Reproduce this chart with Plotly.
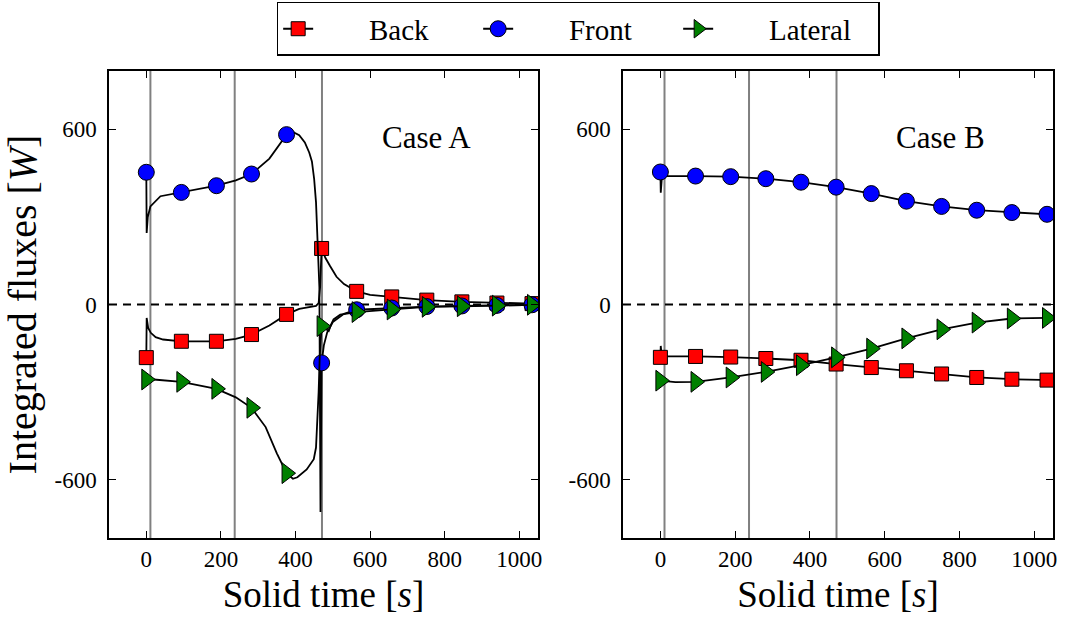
import plotly.graph_objects as go

# ---------------- data ----------------
marker_times = [0, 94, 188, 282, 376, 470, 564, 658, 752, 846, 940, 1034]
event_times = [11, 237, 471]
x_ticks = [0, 200, 400, 600, 800, 1000]
y_ticks = [-600, 0, 600]
y_tick_text = ["-600", "0", "600"]
series_names = ["Back", "Front", "Lateral"]
case_names = ["Case A", "Case B"]

# Case A
a_back_t = [0, 1, 5, 12, 25, 45, 94, 188, 240, 282, 330, 376, 410, 440, 455, 462, 466, 470,
            480, 493, 510, 530, 564, 600, 658, 752, 846, 940, 1034, 1050]
a_back_v = [-182, -46, -80, -97, -112, -120, -126, -126, -118, -103, -72, -34, -15, -8, -5, 5, 60, 192,
            160, 131, 95, 70, 45, 33, 26, 15, 9, 5, 3, 3]
a_back_m = [-182, -126, -126, -103, -34, 192, 45, 26, 15, 9, 5, 3]

a_front_t = [0, 1, 4, 11, 38, 94, 188, 240, 282, 330, 376, 392, 410, 425, 437, 444, 450, 455, 460,
             464, 467, 470, 476, 485, 500, 530, 564, 658, 752, 846, 940, 1034, 1050]
a_front_v = [453, 245, 300, 336, 371, 384, 407, 425, 447, 500, 582, 592, 580, 555, 520, 490, 430, 350, 215,
             60, -711, -200, -140, -95, -60, -32, -18, -12, -7, -5, -3, -1, -1]
a_front_m = [453, 384, 407, 447, 582, -200, -18, -12, -7, -5, -3, -1]

a_lat_t = [0, 3, 20, 94, 188, 240, 282, 320, 350, 376, 393, 405, 430, 449, 455, 459, 462, 465, 468,
           470, 477, 489, 495, 502, 520, 547, 564, 658, 752, 846, 940, 1034, 1050]
a_lat_v = [-257, -250, -257, -265, -289, -318, -354, -420, -510, -578, -597, -592, -565, -530, -490, -405,
           -300, -177, -100, -74, -80, -91, -70, -51, -35, -28, -26, -17, -8, -6, -4, -1, -1]
a_lat_m = [-257, -265, -289, -354, -578, -74, -26, -17, -8, -6, -4, -1]

# Case B
b_back_t = [0, 1, 3, 10, 94, 188, 282, 376, 470, 564, 658, 752, 846, 940, 1034, 1050]
b_back_v = [-181, -142, -172, -178, -178, -180, -185, -191, -204, -216, -227, -238, -250, -256, -259, -259]
b_back_m = [-181, -178, -180, -185, -191, -204, -216, -227, -238, -250, -256, -259]

b_front_t = [0, 1, 4, 10, 94, 188, 282, 376, 470, 564, 658, 752, 846, 940, 1034, 1050]
b_front_v = [454, 383, 437, 440, 440, 438, 431, 419, 402, 380, 354, 336, 323, 315, 309, 308]
b_front_m = [454, 440, 438, 431, 419, 402, 380, 354, 336, 323, 315, 309]

b_lat_t = [0, 40, 94, 188, 282, 376, 470, 564, 658, 752, 846, 940, 1034, 1050]
b_lat_v = [-261, -266, -265, -250, -231, -208, -181, -151, -116, -85, -62, -48, -46, -46]
b_lat_m = [-261, -265, -250, -231, -208, -181, -151, -116, -85, -62, -48, -46]

# ---------------- style ----------------
FONT = "Liberation Serif"
styles = {
    "Back": dict(symbol="square", color="#ff0000", size=14),
    "Front": dict(symbol="circle", color="#0000ff", size=16),
    "Lateral": dict(symbol="triangle-right", color="#008000", size=18),
}

fig = go.Figure()

cases = [
    ("x", "y", [(a_back_t, a_back_v, a_back_m), (a_front_t, a_front_v, a_front_m), (a_lat_t, a_lat_v, a_lat_m)]),
    ("x2", "y2", [(b_back_t, b_back_v, b_back_m), (b_front_t, b_front_v, b_front_m), (b_lat_t, b_lat_v, b_lat_m)]),
]

for xa, ya, data in cases:
    for name, (t, v, m) in zip(series_names, data):
        st = styles[name]
        fig.add_trace(go.Scatter(x=t, y=v, mode="lines", xaxis=xa, yaxis=ya,
                                 line=dict(color="black", width=1.8), showlegend=False,
                                 hoverinfo="skip"))
        fig.add_trace(go.Scatter(x=marker_times, y=m, mode="markers", xaxis=xa, yaxis=ya,
                                 marker=dict(symbol=st["symbol"], color=st["color"], size=st["size"],
                                             line=dict(color="black", width=1)),
                                 showlegend=False))

# legend-only entries
PAD = "&nbsp;" * 7
for name in series_names:
    st = styles[name]
    fig.add_trace(go.Scatter(x=[None], y=[None], mode="lines+markers", name=PAD + name,
                             line=dict(color="black", width=1.8),
                             marker=dict(symbol=st["symbol"], color=st["color"], size=st["size"],
                                         line=dict(color="black", width=1))))

for xa, ya in [("x", "y"), ("x2", "y2")]:
    for t in event_times:
        fig.add_shape(type="line", xref=xa, yref=ya + " domain", x0=t, x1=t, y0=0, y1=1,
                      line=dict(color="#808080", width=2), layer="below")
    fig.add_shape(type="line", xref=xa + " domain", yref=ya, x0=0, x1=1, y0=0, y1=0,
                  line=dict(color="black", width=2, dash="8px,6px"), layer="below")

for xa, ya, label in [("x", "y", case_names[0]), ("x2", "y2", case_names[1])]:
    fig.add_annotation(x=750, y=571, xref=xa, yref=ya, text=label, showarrow=False,
                       font=dict(family=FONT, size=31, color="black"))

axis_common = dict(showline=True, linecolor="black", linewidth=1.5, mirror="ticks",
                   ticks="inside", ticklen=7, tickwidth=1.3, tickcolor="black",
                   showgrid=False, zeroline=False, automargin=False,
                   tickfont=dict(family=FONT, size=23, color="black"))

xtitle = dict(text="Solid time [<i>s</i>]", font=dict(family=FONT, size=37, color="black"), standoff=10)

fig.update_layout(
    width=1066, height=624,
    margin=dict(l=109, r=13, t=71, b=86, autoexpand=False),
    paper_bgcolor="white", plot_bgcolor="white",
    xaxis=dict(domain=[0, 0.4544], range=[-100, 1050], tickvals=x_ticks, anchor="y",
               title=xtitle, **axis_common),
    xaxis2=dict(domain=[0.5445, 1], range=[-100, 1050], tickvals=x_ticks, anchor="y2",
                title=xtitle, **axis_common),
    yaxis=dict(range=[-800, 800], tickvals=y_ticks, ticktext=y_tick_text, anchor="x",
               ticklabelstandoff=6,
               title=dict(text="Integrated fluxes [<i>W</i>]", font=dict(family=FONT, size=40, color="black"),
                          standoff=8),
               **axis_common),
    yaxis2=dict(range=[-800, 800], tickvals=y_ticks, ticktext=y_tick_text, anchor="x2",
                ticklabelstandoff=6, **axis_common),
    legend=dict(orientation="h", x=0.497, xanchor="center", y=1.148, yanchor="top",
                bordercolor="black", borderwidth=1.5, bgcolor="white",
                font=dict(family=FONT, size=29, color="black"),
                entrywidth=155, entrywidthmode="pixels"),
    showlegend=True,
)

fig.write_html("out.html", config={"displayModeBar": False},
               post_script="document.body.style.margin='0';")
